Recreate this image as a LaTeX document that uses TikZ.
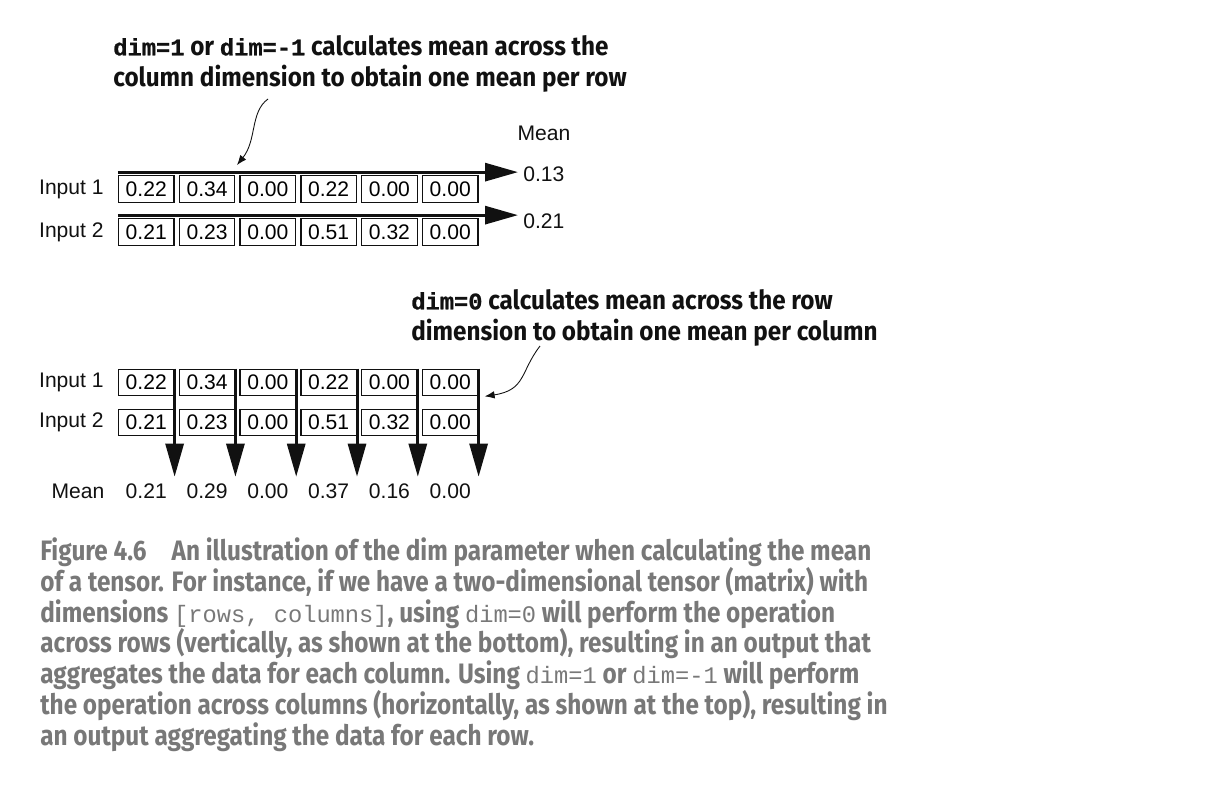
\documentclass[tikz,border=0pt]{standalone}
\usepackage{fontspec}
\setmainfont{Liberation Sans}
\setmonofont{Liberation Mono}
\newfontfamily\notefont[FakeStretch=0.92]{Fira Sans}
\newfontfamily\capfont[FakeStretch=0.865]{Fira Sans}
\newfontfamily\codefont[FakeBold=1]{Liberation Mono}
\usetikzlibrary{arrows.meta,positioning,calc}
\definecolor{cInk}{HTML}{111111}
\definecolor{cCap}{HTML}{787878}
\newcommand\code[1]{{\codefont\fontsize{13.5}{17.6}\selectfont #1}}
\newcommand\capcode[1]{{\mdseries\ttfamily\fontsize{13.5}{17.6}\selectfont #1}}
\tikzset{
  cell/.style={draw=cInk,line width=0.7pt,minimum width=11.1mm,minimum height=5.3mm,
               inner sep=0pt,font=\fontsize{12}{14}\selectfont},
  lab/.style={inner sep=0pt,font=\fontsize{12}{14}\selectfont,text=cInk},
  flow/.style={-{Triangle[length=6.6mm,width=3.6mm]},line width=1.7pt,draw=cInk},
  callout/.style={-{Latex[length=2mm,width=1.5mm]},line width=0.5pt,draw=cInk},
  note/.style={inner sep=0pt,align=left,text=cInk,
               font=\notefont\bfseries\fontsize{15}{17.6}\selectfont},
  captext/.style={inner sep=0pt,align=left,text=cCap,
              font=\capfont\bfseries\fontsize{16}{17.6}\selectfont}
}
\begin{document}
\begin{tikzpicture}[x=0.2mm,y=-0.2mm]
  \useasboundingbox (0,0) rectangle (1214,786);

  % Top: mean across columns (dim=1).
  \node[note,anchor=north west] (ntop) at (113,35)
    {\code{dim=1} or \code{dim=-1} calculates mean across the\\column dimension to obtain one mean per row};
  \node[lab] (mtop) at (544,133) {Mean};
  \node[lab,anchor=east] (tin1) at (104,189) {Input 1};
  \node[lab,anchor=east] (tin2) at (104,232) {Input 2};
  \foreach \v [count=\i] in {0.22,0.34,0.00,0.22,0.00,0.00}
    \node[cell] (ta\i) at ({146.25+60.8*(\i-1)},189) {\v};
  \foreach \v [count=\i] in {0.21,0.23,0.00,0.51,0.32,0.00}
    \node[cell] (tb\i) at ({146.25+60.8*(\i-1)},232) {\v};
  \node[lab,anchor=west] (m1) at (523,174) {0.13};
  \node[lab,anchor=west] (m2) at (523,221) {0.21};
  \draw[flow] ($(ta1.north west)+(0,-3)$) -- ($(ta1.north west -| m1.west)+(-5,-3)$);
  \draw[flow] ($(tb1.north west)+(0,-3)$) -- ($(tb1.north west -| m2.west)+(-5,-3)$);
  \coordinate (ctop) at (268,99);
  \draw[callout] (ctop) .. controls (250,112) and (257,140) .. ([xshift=0.3mm,yshift=2mm]ta2.north east);

  % Bottom: mean across rows (dim=0).
  \node[note,anchor=north west] (nbot) at (411,289)
    {\code{dim=0} calculates mean across the row\\dimension to obtain one mean per column};
  \node[lab,anchor=east] (bin1) at (104,382.5) {Input 1};
  \node[lab,anchor=east] (bin2) at (104,422.5) {Input 2};
  \foreach \v [count=\i] in {0.22,0.34,0.00,0.22,0.00,0.00}
    \node[cell] (ba\i) at ({146.25+60.8*(\i-1)},382.5) {\v};
  \foreach \v [count=\i] in {0.21,0.23,0.00,0.51,0.32,0.00}
    \node[cell] (bb\i) at ({146.25+60.8*(\i-1)},422.5) {\v};
  \node[lab] (mbot) at (78,491) {Mean};
  \foreach \v [count=\i] in {0.21,0.29,0.00,0.37,0.16,0.00}
    \node[lab] (mv\i) at ({146.25+60.8*(\i-1)},491) {\v};
  \foreach \i in {1,...,6}
    \draw[flow] (ba\i.north east) -- ($(ba\i.north east |- mv\i.north)+(0,-6.5)$);
  \coordinate (cbot) at (540,346);
  \draw[callout] (cbot) .. controls (520,372) and (526,390) .. ([xshift=1.2mm]ba6.south east);

  % Caption.
  \node[captext,anchor=north west] (caption) at (40,537)
    {Figure 4.6\hspace{5mm}An illustration of the dim parameter when calculating the mean\\
     of a tensor. For instance, if we have a two-dimensional tensor (matrix) with\\
     dimensions \capcode{[rows, columns]}, using \capcode{dim=0} will perform the operation\\
     across rows (vertically, as shown at the bottom), resulting in an output that\\
     aggregates the data for each column. Using \capcode{dim=1} or \capcode{dim=-1} will perform\\
     the operation across columns (horizontally, as shown at the top), resulting in\\
     an output aggregating the data for each row.};
\end{tikzpicture}
\end{document}
